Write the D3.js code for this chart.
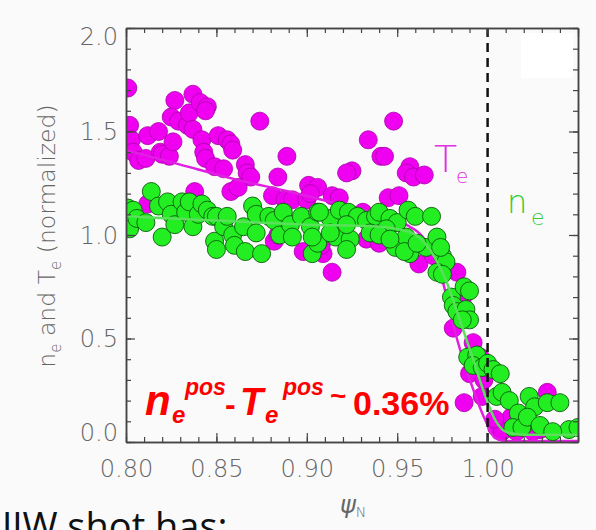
<!DOCTYPE html>
<html><head><meta charset="utf-8">
<script src="https://cdn.jsdelivr.net/npm/d3@7"></script>
<style>
html,body{margin:0;padding:0;background:#fafafa;}
svg{display:block;}
</style></head><body>
<svg id="c" width="596" height="530"></svg>
<script>
// ---- data ----
const xTickValues = [0.80, 0.85, 0.90, 0.95, 1.00, 1.05];
const xTickLabels = ["0.80", "0.85", "0.90", "0.95", "1.00", ""];
const yTickValues = [0.0, 0.5, 1.0, 1.5, 2.0];
const yTickLabels = ["0.0", "0.5", "1.0", "1.5", "2.0"];
const separatrix = 1.00;

// Te (magenta) points: [psi_N, Te normalized]
const tePoints = [
 [0.801,1.71],[0.802,1.53],[0.803,1.46],[0.804,1.40],[0.807,1.36],[0.811,1.37],[0.812,1.48],[0.818,1.50],
 [0.819,1.40],[0.812,1.15],[0.820,1.39],[0.824,1.38],[0.826,1.45],[0.827,1.65],[0.825,1.57],[0.829,1.55],
 [0.834,1.53],[0.835,1.59],[0.837,1.68],[0.841,1.64],[0.845,1.62],[0.844,1.60],[0.837,1.51],[0.842,1.46],
 [0.843,1.40],[0.844,1.37],[0.851,1.48],[0.856,1.46],[0.858,1.44],[0.859,1.41],[0.849,1.33],[0.854,1.32],
 [0.866,1.34],[0.867,1.30],[0.869,1.28],[0.858,1.21],[0.862,1.23],[0.874,1.55],[0.889,1.38],[0.884,1.28],
 [0.838,1.21],[0.881,1.19],[0.888,1.17],[0.892,1.17],[0.901,1.24],[0.906,1.23],[0.900,1.17],[0.914,1.19],
 [0.882,0.97],[0.898,0.92],[0.907,0.92],[0.934,1.46],[0.941,1.38],[0.925,1.31],[0.922,1.30],[0.957,1.33],
 [0.955,1.30],[0.959,1.28],[0.965,1.29],[0.902,1.20],[0.918,1.18],[0.945,1.18],[0.951,1.19],[0.931,1.11],
 [0.933,0.98],[0.909,0.91],[0.914,0.82],[0.962,0.86],[0.975,0.82],[0.983,0.82],[0.948,1.55],[0.943,1.38],
 [0.981,0.55],[0.992,0.48],[0.990,0.33],[0.987,0.19],[0.997,0.22],[0.998,0.30],[0.996,0.41],[1.005,0.07],
 [1.008,0.05],[1.013,0.12],[1.029,0.06],[1.033,0.24],[1.004,0.11],[1.016,0.05],[1.025,0.05],[0.986,0.69],
 [0.884,1.00],[0.908,0.95],[0.940,0.96],[0.970,0.90]
];

// ne (green) points: [psi_N, ne normalized]
const nePoints = [
 [0.801,1.13],[0.802,1.03],[0.804,1.12],[0.806,1.08],[0.811,1.06],[0.814,1.21],[0.820,0.99],[0.818,1.14],
 [0.823,1.16],[0.825,1.10],[0.827,1.05],[0.831,1.16],[0.833,1.11],[0.835,1.16],[0.837,1.04],[0.840,1.10],
 [0.842,1.15],[0.845,1.12],[0.848,1.09],[0.850,1.09],[0.849,0.97],[0.850,0.93],[0.854,1.04],[0.856,1.09],
 [0.859,1.00],[0.860,0.95],[0.865,1.04],[0.866,0.92],[0.870,1.14],[0.872,1.10],[0.872,1.01],[0.875,0.91],
 [0.879,1.09],[0.882,1.07],[0.885,1.00],[0.887,1.11],[0.891,1.05],[0.892,0.99],[0.897,1.09],[0.902,1.04],
 [0.903,0.91],[0.906,1.11],[0.906,0.96],[0.903,0.99],[0.913,1.08],[0.916,0.99],[0.907,1.11],[0.918,1.12],
 [0.923,1.11],[0.928,1.09],[0.933,1.07],[0.938,1.09],[0.940,1.11],[0.946,1.08],[0.950,1.06],[0.956,1.12],
 [0.960,1.09],[0.969,1.09],[0.913,1.01],[0.924,0.98],[0.922,0.93],[0.935,1.01],[0.944,1.03],[0.949,0.94],
 [0.955,0.99],[0.957,0.91],[0.966,0.94],[0.972,0.99],[0.975,0.90],[0.977,0.87],[0.972,0.82],[0.922,1.05],
 [0.940,1.00],[0.946,0.98],[0.954,0.92],[0.961,0.96],[0.974,0.94],[0.975,0.81],[0.980,0.70],[0.987,0.75],
 [0.990,0.73],[0.981,0.66],[0.983,0.63],[0.988,0.64],[0.990,0.59],[0.986,0.59],[0.989,0.41],[0.994,0.42],
 [0.992,0.37],[0.997,0.36],[1.000,0.38],[1.003,0.35],[1.007,0.33],[1.005,0.22],[1.008,0.24],[1.012,0.20],
 [1.023,0.22],[1.026,0.17],[1.033,0.19],[1.040,0.19],[1.017,0.14],[1.014,0.07],[1.019,0.07],[1.022,0.12],
 [1.045,0.06],[1.050,0.07],[1.029,0.08],[1.036,0.05]
];

// fitted profiles
const teFit = [[0.80,1.41],[0.83,1.34],[0.86,1.27],[0.89,1.21],[0.913,1.16],[0.94,1.10],[0.955,1.05],
 [0.965,0.98],[0.975,0.78],[0.983,0.50],[0.991,0.28],[0.999,0.10],[1.004,0.02],[1.01,0.005],[1.05,0.005]];
const neFit = [[0.80,1.09],[0.85,1.07],[0.90,1.05],[0.94,1.04],[0.958,1.01],[0.968,0.93],[0.977,0.78],
 [0.985,0.58],[0.992,0.40],[0.998,0.24],[1.004,0.11],[1.010,0.05],[1.02,0.035],[1.05,0.035]];

// ---- drawing ----
const svg = d3.select("#c");
const L = 126, R = 578, T = 28, B = 442;
const x = d3.scaleLinear().domain([0.80, 1.05]).range([L, R]);
const y = d3.scaleLinear().domain([0, 2]).range([B, T]);

const tickFont = "'DejaVu Sans', sans-serif";
const axisCol = "#444";
const labCol = "#666";

// white box top right
svg.append("rect").attr("x", 521).attr("y", 33).attr("width", 52).attr("height", 45).attr("fill", "#fff");

// points & fits
const clipId = "plotclip";
svg.append("clipPath").attr("id", clipId).append("rect")
  .attr("x", L).attr("y", T).attr("width", R - L).attr("height", B - T);
const plot = svg.append("g").attr("clip-path", `url(#${clipId})`);

plot.selectAll("circle.te").data(tePoints).join("circle").attr("class", "te")
  .attr("cx", d => x(d[0])).attr("cy", d => y(d[1])).attr("r", 9)
  .attr("fill", "#f000f0").attr("stroke", "#a800a8").attr("stroke-width", 0.8);

const line = d3.line().x(d => x(d[0])).y(d => y(d[1])).curve(d3.curveMonotoneX);
plot.append("path").datum(teFit).attr("d", line).attr("fill", "none")
  .attr("stroke", "#e020e0").attr("stroke-width", 2.5);

plot.selectAll("circle.ne").data(nePoints).join("circle").attr("class", "ne")
  .attr("cx", d => x(d[0])).attr("cy", d => y(d[1])).attr("r", 9)
  .attr("fill", "#22ee22").attr("stroke", "#0b5a0b").attr("stroke-width", 0.9);

plot.append("path").datum(neFit).attr("d", line).attr("fill", "none")
  .attr("stroke", "#5ae05a").attr("stroke-width", 2.5);

// separatrix dashed line
svg.append("line").attr("x1", x(separatrix)).attr("x2", x(separatrix))
  .attr("y1", T).attr("y2", B).attr("stroke", "#111").attr("stroke-width", 2.5)
  .attr("stroke-dasharray", "9,6");

// axes
const xMinor = d3.range(80, 106).map(v => v / 100);
const yMinor = d3.range(0, 21).map(v => v / 10);

function styleAxis(g) {
  g.select(".domain").attr("stroke", axisCol).attr("stroke-width", 1.5);
  g.selectAll(".tick line").attr("stroke", axisCol).attr("stroke-width", 1.2);
  g.selectAll("text").attr("font-family", tickFont).attr("font-weight", 200)
    .attr("font-size", 24).attr("fill", labCol);
}
// bottom
svg.append("g").attr("transform", `translate(0,${B})`)
  .call(d3.axisBottom(x).tickValues(xMinor).tickSize(-5).tickSizeOuter(0).tickFormat(""))
  .call(styleAxis);
svg.append("g").attr("transform", `translate(0,${B})`)
  .call(d3.axisBottom(x).tickValues(xTickValues).tickSize(-9).tickSizeOuter(0).tickPadding(18)
    .tickFormat((d, i) => xTickLabels[i]))
  .call(styleAxis);
// top
svg.append("g").attr("transform", `translate(0,${T})`)
  .call(d3.axisTop(x).tickValues(xMinor).tickSize(-5).tickSizeOuter(0).tickFormat(""))
  .call(styleAxis);
svg.append("g").attr("transform", `translate(0,${T})`)
  .call(d3.axisTop(x).tickValues(xTickValues).tickSize(-9).tickSizeOuter(0).tickFormat(""))
  .call(styleAxis);
// left
svg.append("g").attr("transform", `translate(${L},0)`)
  .call(d3.axisLeft(y).tickValues(yMinor).tickSize(-5).tickSizeOuter(0).tickFormat(""))
  .call(styleAxis);
const yl = svg.append("g").attr("transform", `translate(${L},0)`)
  .call(d3.axisLeft(y).tickValues(yTickValues).tickSize(-9).tickSizeOuter(0).tickPadding(8)
    .tickFormat((d, i) => yTickLabels[i]))
  .call(styleAxis);
yl.selectAll(".tick text").attr("dy", (d) => d === 0 ? "-0.05em" : (d === 2 ? "0.7em" : "0.35em"));
// right
svg.append("g").attr("transform", `translate(${R},0)`)
  .call(d3.axisRight(y).tickValues(yMinor).tickSize(-5).tickSizeOuter(0).tickFormat(""))
  .call(styleAxis);
svg.append("g").attr("transform", `translate(${R},0)`)
  .call(d3.axisRight(y).tickValues(yTickValues).tickSize(-9).tickSizeOuter(0).tickFormat(""))
  .call(styleAxis);

// axis titles
const yt = svg.append("text").attr("transform", "translate(55,236) rotate(-90)")
  .attr("text-anchor", "middle").attr("font-family", tickFont).attr("font-weight", 200)
  .attr("font-size", 23.5).attr("fill", labCol);
yt.append("tspan").text("n");
yt.append("tspan").attr("dy", 6).attr("font-size", 15).text("e");
yt.append("tspan").attr("dy", -6).text(" and T");
yt.append("tspan").attr("dy", 6).attr("font-size", 15).text("e");
yt.append("tspan").attr("dy", -6).text(" (normalized)");

const xt = svg.append("text").attr("x", 340).attr("y", 513)
  .attr("font-family", tickFont).attr("font-weight", 200).attr("fill", labCol).attr("font-size", 24);
xt.append("tspan").attr("font-style", "italic").text("ψ");
xt.append("tspan").attr("dy", 4).attr("font-size", 14).text("N");

// series labels
const tl = svg.append("text").attr("x", 434).attr("y", 172).attr("font-family", tickFont)
  .attr("font-weight", 200).attr("font-size", 38).attr("fill", "#e030e0");
tl.append("tspan").text("T");
tl.append("tspan").attr("x", 456).attr("y", 183).attr("font-size", 20).text("e");
const nl = svg.append("text").attr("x", 507).attr("y", 213).attr("font-family", tickFont)
  .attr("font-weight", 200).attr("font-size", 32).attr("fill", "#33cc33");
nl.append("tspan").text("n");
nl.append("tspan").attr("x", 531).attr("y", 225).attr("font-size", 22).text("e");

// red annotation
const af = "'Liberation Sans', Arial, sans-serif";
function rt(txt, xx, yy, size, italic) {
  svg.append("text").attr("x", xx).attr("y", yy).attr("font-family", af).attr("font-weight", "bold")
    .attr("font-style", italic ? "italic" : "normal").attr("font-size", size).attr("fill", "#ff0000").text(txt);
}
rt("n", 145, 415, 42, true);
rt("e", 172, 423, 24, true);
rt("pos", 185, 395, 23, true);
rt("-", 225, 415, 32, false);
rt("T", 240, 415, 38, true);
rt("e", 265, 423, 24, true);
rt("pos", 283, 395, 23, true);
rt("~", 330, 405, 28, false);
rt("0.36%", 353, 415, 34, false);

// bottom slide text (cut off at the slide edge, as in the reference)
svg.append("text").attr("x", 2).attr("y", 540).attr("font-family", "'Open Sans', sans-serif")
  .attr("font-size", 38).attr("fill", "#111").text("JJW shot has:");
</script>
</body></html>
